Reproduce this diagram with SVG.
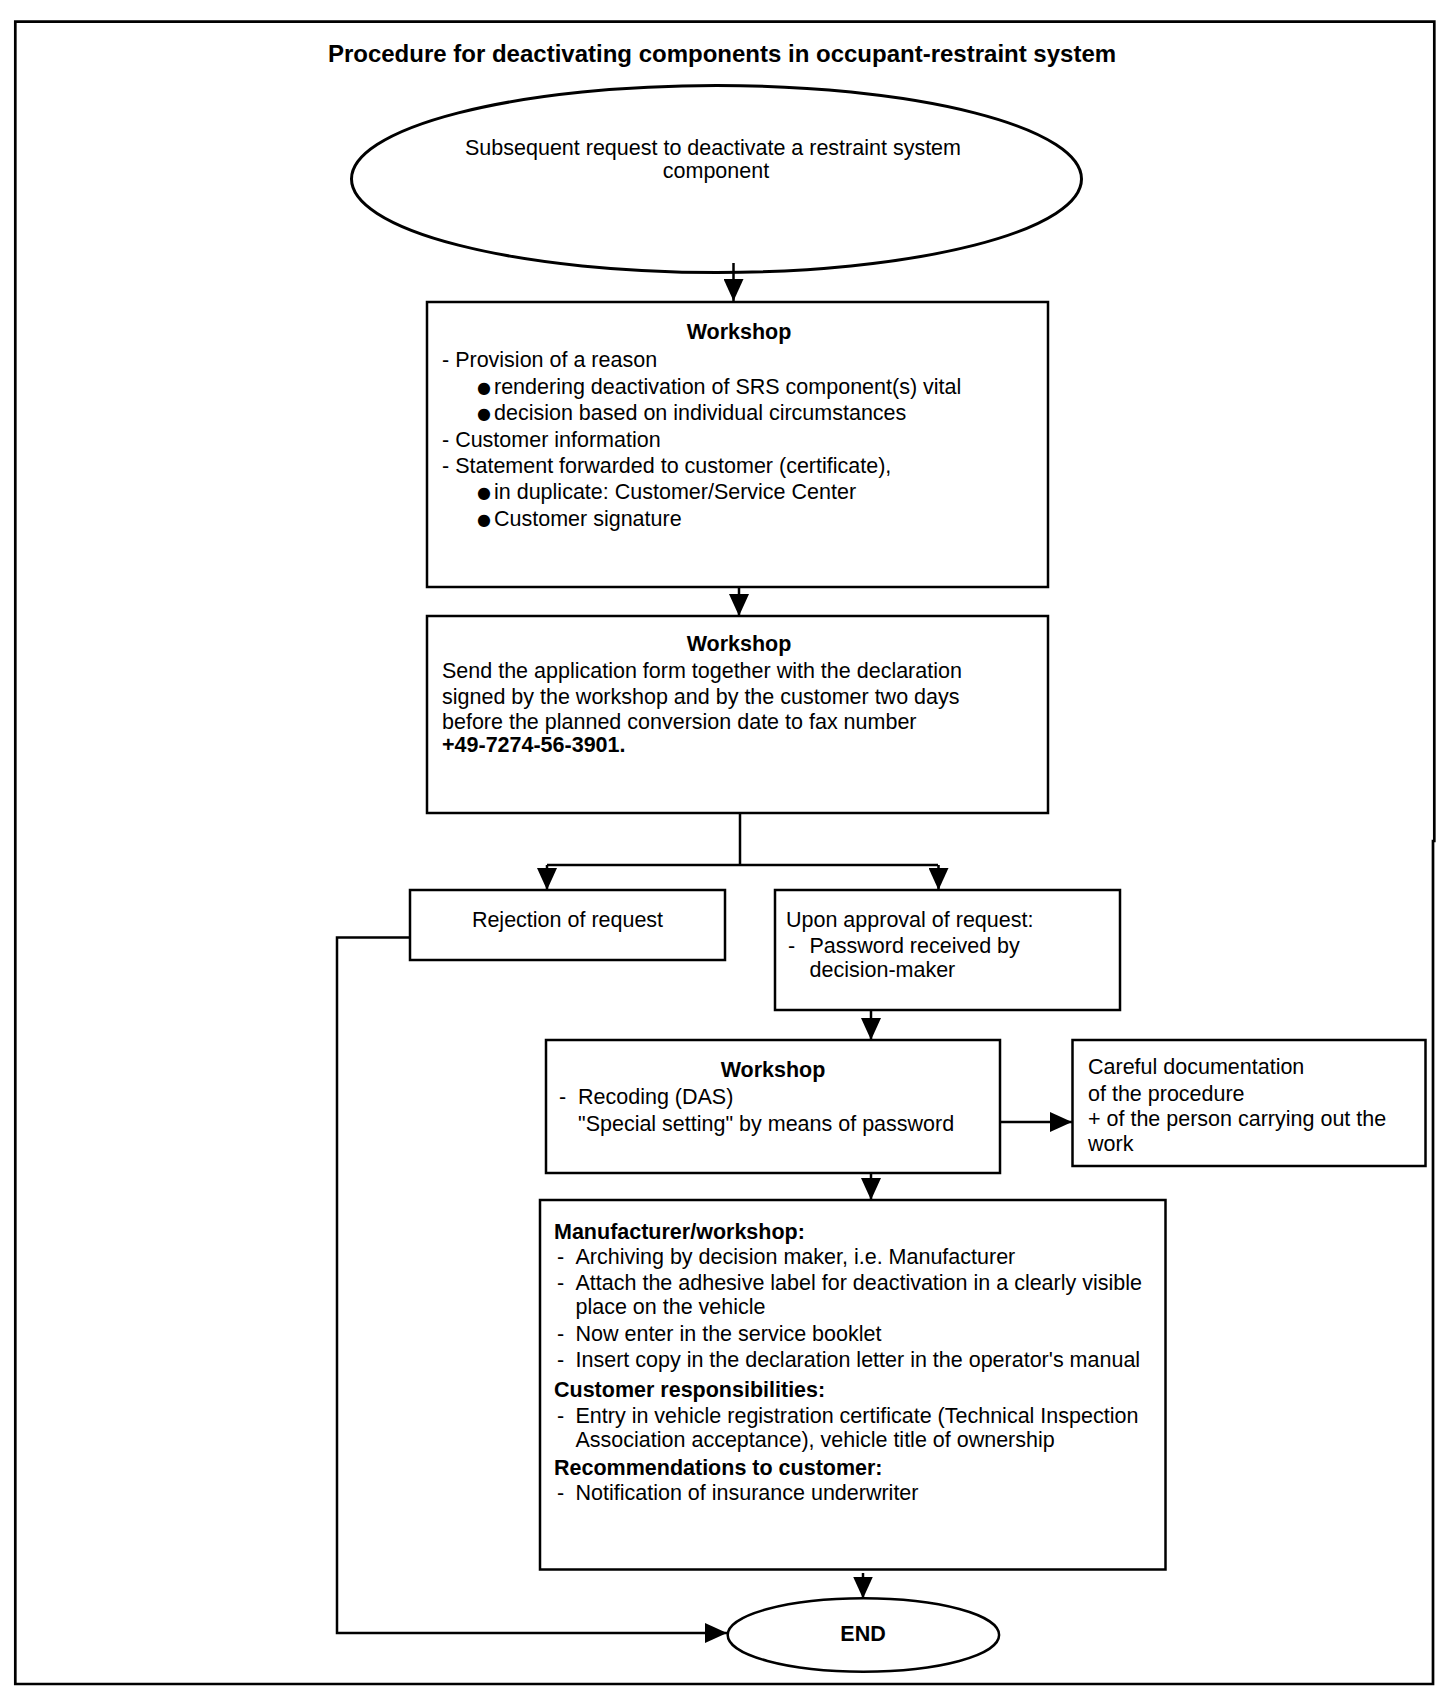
<svg xmlns="http://www.w3.org/2000/svg" width="1456" height="1706" viewBox="0 0 1456 1706">
<defs>
<marker id="ah" markerUnits="userSpaceOnUse" markerWidth="22" markerHeight="20" refX="22" refY="10" orient="auto"><path d="M0,0 L22,10 L0,20 z" fill="#000"/></marker>
<style>
text{font-family:"Liberation Sans",Arial,sans-serif;font-size:21.5px;fill:#000}
.b{font-weight:bold}
.c{text-anchor:middle}
.t{font-size:24px;font-weight:bold}
.dot{font-family:"DejaVu Sans",sans-serif;font-size:16px}
.box{fill:#fff;stroke:#000;stroke-width:2.5}
.conn{fill:none;stroke:#000;stroke-width:2.5}
.arr{marker-end:url(#ah)}
</style>
</defs>
<rect width="1456" height="1706" fill="#fff"/>
<path d="M15.3,21.7 H1434.3 V841 H1433 V1684 H15.3 Z" fill="none" stroke="#000" stroke-width="2.7"/>
<text class="t c" x="722" y="62">Procedure for deactivating components in occupant-restraint system</text>

<g id="start">
<ellipse cx="716.5" cy="179" rx="365" ry="93.5" fill="#fff" stroke="#000" stroke-width="3"/>
<text class="c" x="713" y="155">Subsequent request to deactivate a restraint system</text>
<text class="c" x="716" y="178">component</text>
</g>

<g id="box1">
<rect class="box" x="427" y="302" width="621" height="285"/>
<text class="b c" x="739" y="339">Workshop</text>
<text x="442" y="367">- Provision of a reason</text>
<text class="dot" x="477" y="393">●</text><text x="494" y="394">rendering deactivation of SRS component(s) vital</text>
<text class="dot" x="477" y="419">●</text><text x="494" y="420">decision based on individual circumstances</text>
<text x="442" y="447">- Customer information</text>
<text x="442" y="473">- Statement forwarded to customer (certificate),</text>
<text class="dot" x="477" y="498">●</text><text x="494" y="499">in duplicate: Customer/Service Center</text>
<text class="dot" x="477" y="525">●</text><text x="494" y="526">Customer signature</text>
</g>

<g id="box2">
<rect class="box" x="427" y="616" width="621" height="197"/>
<text class="b c" x="739" y="651">Workshop</text>
<text x="442" y="678">Send the application form together with the declaration</text>
<text x="442" y="704">signed by the workshop and by the customer two days</text>
<text x="442" y="728.5">before the planned conversion date to fax number</text>
<text class="b" x="442" y="752">+49-7274-56-3901.</text>
</g>

<g id="reject">
<rect class="box" x="410" y="890" width="315" height="70"/>
<text class="c" x="567.5" y="927">Rejection of request</text>
</g>

<g id="approve">
<rect class="box" x="775" y="890" width="345" height="120"/>
<text x="786" y="927">Upon approval of request:</text>
<text x="788" y="953">-</text><text x="809.5" y="953">Password received by</text>
<text x="809.5" y="977">decision-maker</text>
</g>

<g id="box3">
<rect class="box" x="546" y="1040" width="454" height="133"/>
<text class="b c" x="773" y="1077">Workshop</text>
<text x="559" y="1104">-</text><text x="578" y="1104">Recoding (DAS)</text>
<text x="578" y="1131">"Special setting" by means of password</text>
</g>

<g id="doc">
<rect class="box" x="1072.5" y="1040" width="353" height="126"/>
<text x="1088" y="1074">Careful documentation</text>
<text x="1088" y="1100.5">of the procedure</text>
<text x="1088" y="1126">+ of the person carrying out the</text>
<text x="1088" y="1150.5">work</text>
</g>

<g id="box5">
<rect class="box" x="540" y="1200" width="625.5" height="369.5"/>
<text class="b" x="554" y="1239">Manufacturer/workshop:</text>
<text x="557" y="1264">-</text><text x="575.5" y="1264">Archiving by decision maker, i.e. Manufacturer</text>
<text x="557" y="1290">-</text><text x="575.5" y="1290">Attach the adhesive label for deactivation in a clearly visible</text>
<text x="575.5" y="1313.5">place on the vehicle</text>
<text x="557" y="1341">-</text><text x="575.5" y="1341">Now enter in the service booklet</text>
<text x="557" y="1366.5">-</text><text x="575.5" y="1366.5">Insert copy in the declaration letter in the operator's manual</text>
<text class="b" x="554" y="1396.5">Customer responsibilities:</text>
<text x="557" y="1423">-</text><text x="575.5" y="1423">Entry in vehicle registration certificate (Technical Inspection</text>
<text x="575.5" y="1446.5">Association acceptance), vehicle title of ownership</text>
<text class="b" x="554" y="1475">Recommendations to customer:</text>
<text x="557" y="1500">-</text><text x="575.5" y="1500">Notification of insurance underwriter</text>
</g>

<g id="end">
<ellipse cx="863.4" cy="1635" rx="135.7" ry="36.7" fill="#fff" stroke="#000" stroke-width="2.5"/>
<text class="b c" x="863" y="1641">END</text>
</g>

<g id="connectors">
<path class="conn arr" d="M733.5,263 V301"/>
<path class="conn arr" d="M739,587 V616"/>
<path class="conn" d="M740,813 V865 M547,865 H938"/>
<path class="conn arr" d="M547,865 V890"/>
<path class="conn arr" d="M938.5,865 V890"/>
<path class="conn arr" d="M871,1010 V1040"/>
<path class="conn arr" d="M1000,1122 H1072"/>
<path class="conn arr" d="M871,1173 V1200"/>
<path class="conn arr" d="M863,1573 V1598.5"/>
<path class="conn arr" d="M410,937.5 H337 V1633 H727"/>
</g>
</svg>
